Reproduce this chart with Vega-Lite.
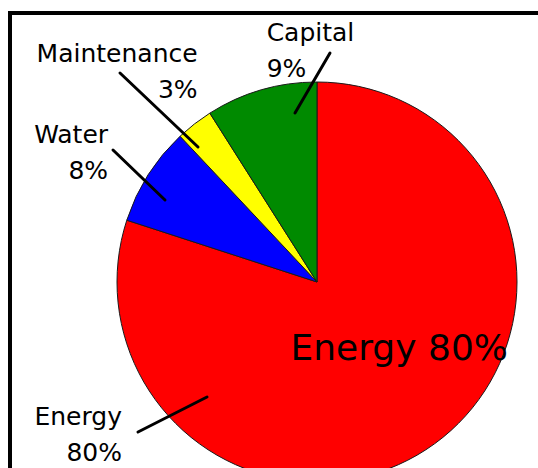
{
  "$schema": "https://vega.github.io/schema/vega-lite/v6.json",
  "width": 614,
  "height": 538,
  "autosize": {"type": "none"},
  "padding": {"left": 10, "top": 13, "right": -86, "bottom": -83},
  "background": "white",
  "config": {
    "view": {"stroke": "black", "strokeWidth": 4},
    "style": {
      "view": {"stroke": "black", "strokeWidth": 4},
      "cell": {"stroke": "black", "strokeWidth": 4}
    },
    "text": {"font": "DejaVu Sans", "color": "black"}
  },
  "data": {
    "values": [
      {"category": "Energy", "value": 80, "label": ["Energy", "80%"], "inner": "Energy 80%"},
      {"category": "Water", "value": 8, "label": ["Water", "8%"], "inner": ""},
      {"category": "Maintenance", "value": 3, "label": ["Maintenance", "3%"], "inner": ""},
      {"category": "Capital", "value": 9, "label": ["Capital", "9%"], "inner": ""}
    ]
  },
  "transform": [{"window": [{"op": "row_number", "as": "idx"}]}],
  "layer": [
    {
      "encoding": {
        "theta": {"field": "value", "type": "quantitative", "stack": true},
        "order": {"field": "idx", "type": "quantitative", "sort": "ascending"},
        "color": {
          "field": "category",
          "type": "nominal",
          "sort": ["Energy", "Water", "Maintenance", "Capital"],
          "scale": {
            "domain": ["Energy", "Water", "Maintenance", "Capital"],
            "range": ["#ff0000", "#0000ff", "#ffff00", "#008a00"]
          },
          "legend": null
        }
      },
      "layer": [
        {"mark": {"type": "arc", "outerRadius": 200, "stroke": "#1a1a1a", "strokeWidth": 1}},
        {
          "mark": {"type": "text", "radius": 111, "dx": 17, "dy": -12, "fontSize": 36, "align": "center", "baseline": "alphabetic"},
          "encoding": {
            "text": {"condition": {"test": "datum.category === 'Energy'", "field": "inner"}, "value": ""},
            "fill": {"value": "black"}
          }
        },
        {
          "mark": {"type": "text", "radius": 245, "dx": 18, "dy": -6, "fontSize": 25, "lineHeight": 36, "align": "left", "baseline": "alphabetic"},
          "encoding": {
            "text": {"condition": {"test": "datum.category === 'Capital'", "field": "label"}, "value": ""},
            "fill": {"value": "black"}
          }
        },
        {
          "mark": {"type": "text", "radius": 247, "dx": 32, "dy": -25, "fontSize": 25, "lineHeight": 36, "align": "right", "baseline": "alphabetic"},
          "encoding": {
            "text": {"condition": {"test": "datum.category === 'Maintenance'", "field": "label"}, "value": ""},
            "fill": {"value": "black"}
          }
        },
        {
          "mark": {"type": "text", "radius": 251, "dx": 3, "dy": -5, "fontSize": 25, "lineHeight": 36, "align": "right", "baseline": "alphabetic"},
          "encoding": {
            "text": {"condition": {"test": "datum.category === 'Water'", "field": "label"}, "value": ""},
            "fill": {"value": "black"}
          }
        },
        {
          "mark": {"type": "text", "radius": 0, "dx": -195, "dy": 143, "fontSize": 25, "lineHeight": 36, "align": "right", "baseline": "alphabetic"},
          "encoding": {
            "text": {"condition": {"test": "datum.category === 'Energy'", "field": "label"}, "value": ""},
            "fill": {"value": "black"}
          }
        }
      ]
    },
    {
      "mark": {"type": "point", "size": 4, "filled": false, "stroke": "black", "strokeWidth": 3, "opacity": 1, "strokeCap": "round"},
      "encoding": {
        "shape": {
          "field": "category",
          "type": "nominal",
          "scale": {
            "domain": ["Energy", "Water", "Maintenance", "Capital"],
            "range": ["M-110,115L-179,150", "M-152,-82L-204,-132", "M-119,-135L-197,-209", "M-22,-169L13,-229"]
          },
          "legend": null
        }
      }
    }
  ]
}
